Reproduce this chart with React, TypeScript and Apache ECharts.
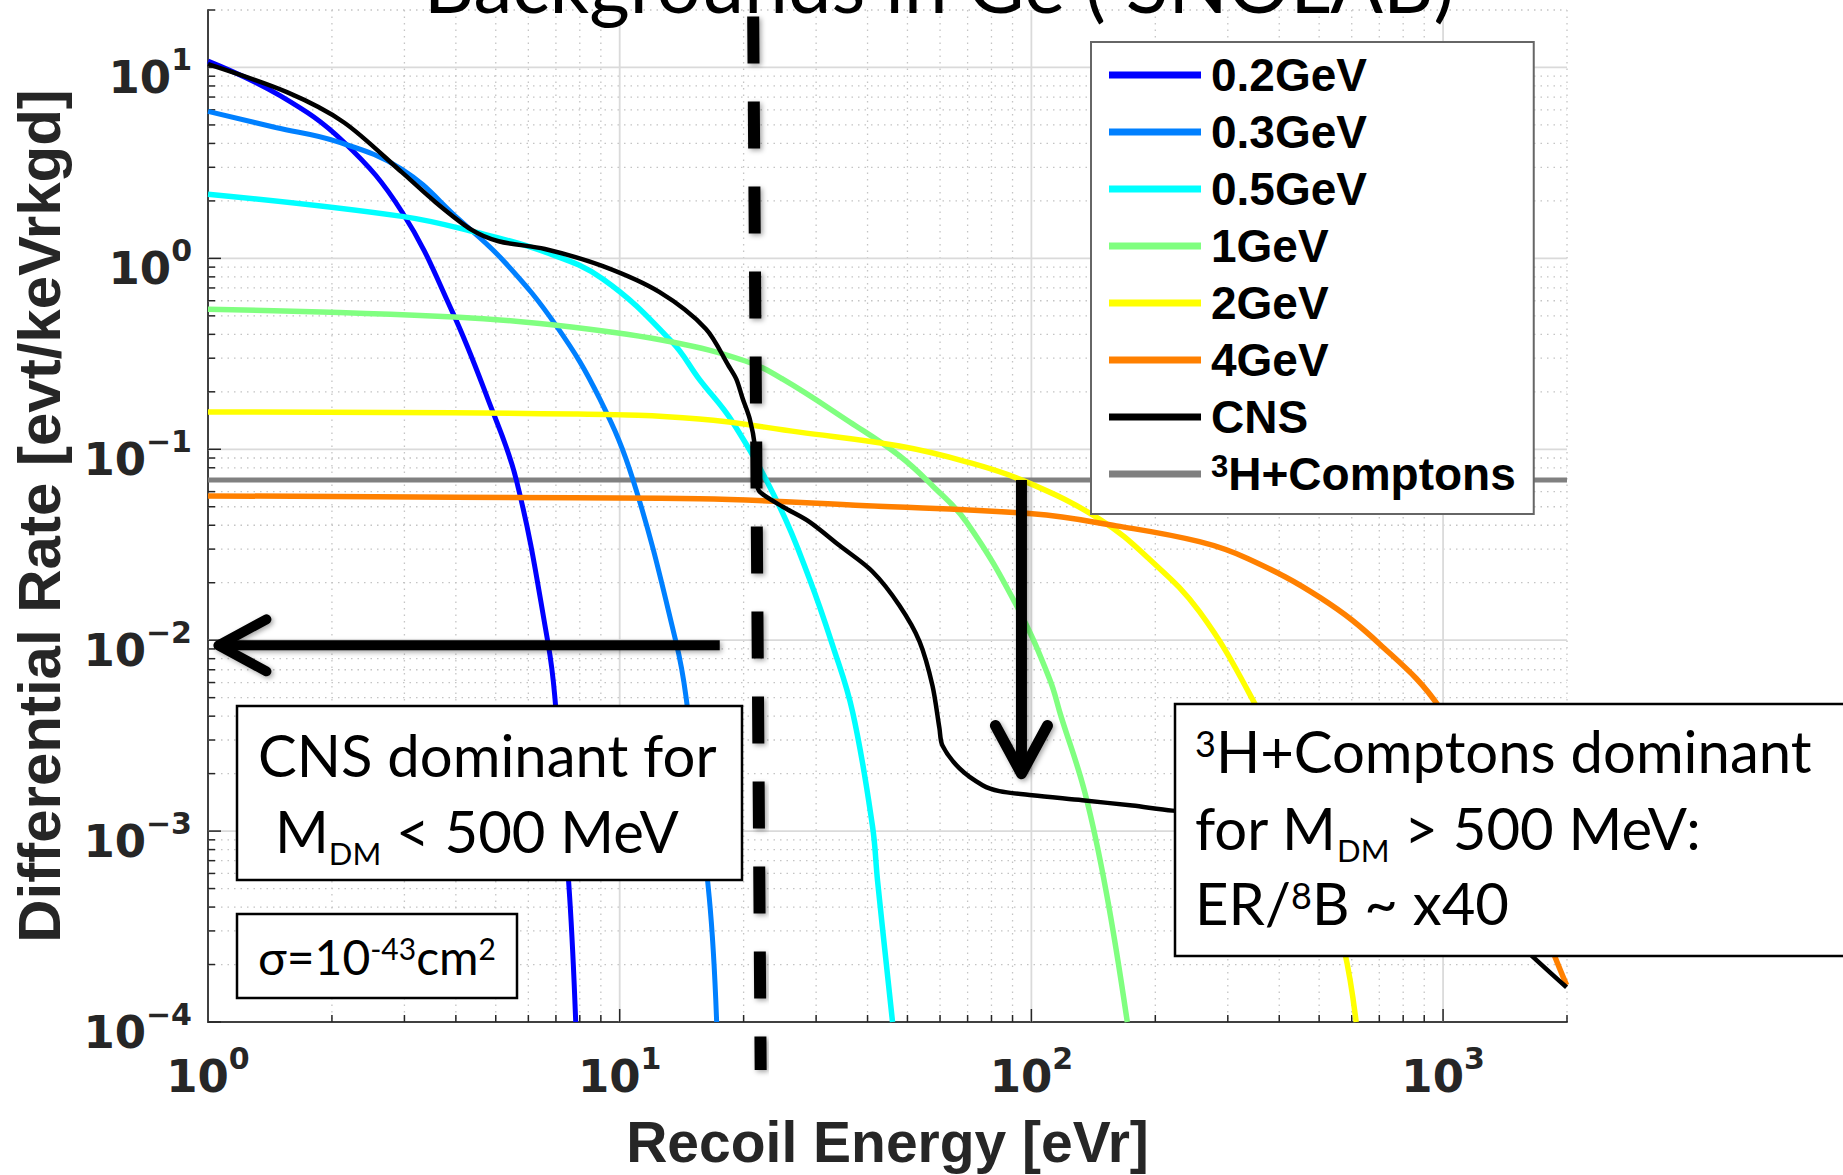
import React, { useEffect, useRef } from "react";
import * as echarts from "echarts";

type Pt = [number, number];

// Differential recoil spectra in Ge: [recoil energy (eVr), rate (evt/keVr/kg/d)]
const rate02GeV: Pt[] = [
  [1, 10.8], [1.5, 7.1], [2.14, 4.06], [2.96, 1.75], [3.93, 0.52], [4.78, 0.184],
  [5.62, 0.068], [6.69, 0.0098], [6.96, 0.005], [7.56, 4.5e-4], [7.82, 1e-4],
];
const rate03GeV: Pt[] = [
  [1, 5.89], [1.46, 4.85], [2.05, 4.1], [2.96, 2.93], [4.07, 1.6], [5.26, 0.955],
  [7.03, 0.44], [8.94, 0.184], [10.8, 0.068], [13.7, 0.0098], [14.5, 0.005],
  [16.5, 4.5e-4], [17.2, 1e-4],
];
const rate05GeV: Pt[] = [
  [1, 2.17], [2.96, 1.66], [4.47, 1.37], [6.58, 1.08], [9.1, 0.78], [13.4, 0.365],
  [15.6, 0.233], [18.8, 0.139], [24.4, 0.0506], [28.9, 0.021], [32.9, 0.0094],
  [36.8, 0.0042], [41.1, 0.00107], [42.3, 5.5e-4], [46, 1e-4],
];
const rate1GeV: Pt[] = [
  [1, 0.542], [4.07, 0.492], [7.73, 0.436], [13.4, 0.365], [20.2, 0.29], [24.9, 0.233],
  [36.2, 0.139], [47.8, 0.0925], [57.5, 0.0644], [69.5, 0.0417], [92, 0.0152],
  [110.6, 0.0063], [118, 0.004], [135, 0.00158], [152, 4.8e-4], [171, 1e-4],
];
const rate2GeV: Pt[] = [
  [1, 0.157], [7.73, 0.153], [15.6, 0.144], [27.3, 0.123], [47.8, 0.104], [69.5, 0.086],
  [97.2, 0.0675], [146, 0.0432], [193, 0.0267], [256, 0.0141], [348, 0.0047],
  [470, 0.00124], [575, 2.4e-4], [615, 1e-4],
];
const rate4GeV: Pt[] = [
  [1, 0.057], [7.73, 0.0557], [15.6, 0.0551], [39.8, 0.0506], [100.5, 0.0459],
  [161, 0.0397], [256, 0.0328], [336, 0.0267], [503, 0.0167], [703, 0.0095],
  [984, 0.0044], [1400, 0.0011], [1858, 2.27e-4], [1995, 1.56e-4],
];
const rateCNS: Pt[] = [
  [1, 10.4], [1.56, 7.4], [2.14, 5.15], [2.96, 2.82], [3.57, 1.97], [4.35, 1.42],
  [5.08, 1.23], [6.58, 1.12], [9.1, 0.91], [12.5, 0.665], [16.2, 0.427], [18.4, 0.273],
  [19.2, 0.233], [19.9, 0.184], [20.7, 0.144], [21.3, 0.104], [21.5, 0.0675],
  [21.9, 0.0598], [24.9, 0.05], [28.9, 0.0417], [34.2, 0.0313], [41.1, 0.0229],
  [47.8, 0.0152], [53.5, 0.00984], [57.5, 0.00579], [59.8, 0.00345], [60.8, 0.00281],
  [66.9, 0.00213], [76.1, 0.00174], [83.6, 0.00162], [100.5, 0.00154], [133, 0.00145],
  [176, 0.00136], [220, 0.00128], [400, 0.00115], [700, 8.5e-4], [1000, 6e-4],
  [1300, 3.6e-4], [1626, 2.27e-4], [1995, 1.52e-4],
];
const rateTritiumCompton: Pt[] = [[1, 0.069], [2000, 0.069]];

const seriesNames = ["0.2GeV", "0.3GeV", "0.5GeV", "1GeV", "2GeV", "4GeV", "CNS", "3H+Comptons"];
const seriesColors = ["#0000FF", "#0080FF", "#00FFFF", "#80FF80", "#FFFF00", "#FF8000", "#000000", "#808080"];
const seriesWidths = [5, 5, 5.5, 5.5, 5.5, 5.5, 4.5, 5];
const seriesData = [rate02GeV, rate03GeV, rate05GeV, rate1GeV, rate2GeV, rate4GeV, rateCNS, rateTritiumCompton];

// Axis ranges and decade ticks
const xRange: Pt = [1, 2000];
const yRange: Pt = [1e-4, 20];
const xDecades = [1, 10, 100, 1000];
const yDecades = [1e-4, 1e-3, 1e-2, 1e-1, 1, 10];
const minorSteps = [2, 3, 4, 5, 6, 7, 8, 9];

// Annotation anchors in data space
const thresholdLine: Pt[] = [[21.1, 18.5], [22.0, 5.6e-5]];
const arrowLeft: Pt[] = [[17.5, 0.0094], [1.06, 0.0094]];
const arrowDown: Pt[] = [[94.6, 0.069], [94.6, 0.002]];

const AXIS_FONT = "'Liberation Sans', Arial, Helvetica, sans-serif";
const TICK_FONT = "'DejaVu Sans', Verdana, sans-serif";
const NOTE_FONT = "Lato, 'Open Sans', sans-serif";
const INK = "#262626";

const powerLabel = (v: number): string => {
  const e = Math.log10(v);
  const r = Math.round(e);
  if (Math.abs(e - r) > 1e-6) return "";
  const exp = r < 0 ? "\u2212" + Math.abs(r) : String(r);
  return `{b|10}{s|${exp}}`;
};

const tickRich = {
  b: { fontFamily: TICK_FONT, fontWeight: "bold", fontSize: 45, color: INK, lineHeight: 56, verticalAlign: "bottom" },
  s: { fontFamily: TICK_FONT, fontWeight: "bold", fontSize: 30, color: INK, verticalAlign: "top" },
};

const minorValues = (decades: number[], range: Pt) => {
  const out: number[] = [];
  decades.forEach((d) => minorSteps.forEach((m) => {
    const v = d * m;
    if (v > range[0] && v <= range[1] * 1.0001) out.push(v);
  }));
  return out;
};

// Grid lines and inward ticks drawn against the cartesian scales
const gridRenderer = (params: any, api: any) => {
  const cs = params.coordSys;
  const left = cs.x, top = cs.y, right = cs.x + cs.width, bottom = cs.y + cs.height;
  const kids: any[] = [];
  const seg = (x1: number, y1: number, x2: number, y2: number, stroke: string, w: number, dash?: number[]) =>
    kids.push({ type: "line", shape: { x1, y1, x2, y2 }, style: { stroke, lineWidth: w, lineDash: dash || null } });
  const xMinor = minorValues(xDecades, xRange);
  const yMinor = minorValues(yDecades, yRange);
  const xMajor = xDecades.filter((v) => v > xRange[0]);
  const yMajor = yDecades.filter((v) => v > yRange[0]);
  xMinor.forEach((v) => { const x = api.coord([v, 1])[0]; seg(x, top, x, bottom, "#c4c4c4", 1.3, [1.5, 5]); });
  yMinor.forEach((v) => { const y = api.coord([1, v])[1]; seg(left, y, right, y, "#c4c4c4", 1.3, [1.5, 5]); });
  xMajor.forEach((v) => { const x = api.coord([v, 1])[0]; seg(x, top, x, bottom, "#dadada", 1.8); });
  yMajor.forEach((v) => { const y = api.coord([1, v])[1]; seg(left, y, right, y, "#dadada", 1.8); });
  xMinor.forEach((v) => { const x = api.coord([v, 1])[0]; seg(x, bottom, x, bottom - 7, INK, 1.5); });
  xMajor.forEach((v) => { const x = api.coord([v, 1])[0]; seg(x, bottom, x, bottom - 13, INK, 1.5); });
  yMinor.forEach((v) => { const y = api.coord([1, v])[1]; seg(left, y, left + 7, y, INK, 1.5); });
  yDecades.forEach((v) => { const y = api.coord([1, v])[1]; seg(left, y, left + 13, y, INK, 1.5); });
  return { type: "group", children: kids };
};

const legendRich = {
  n: { fontFamily: AXIS_FONT, fontWeight: "bold", fontSize: 46, color: "#000", verticalAlign: "middle" },
  h: { fontFamily: AXIS_FONT, fontWeight: "bold", fontSize: 46, color: "#000", lineHeight: 46, verticalAlign: "bottom" },
  s: { fontFamily: AXIS_FONT, fontWeight: "bold", fontSize: 31, color: "#000", lineHeight: 31, verticalAlign: "top" },
};

const buildOption = () => ({
  animation: false,
  backgroundColor: "#ffffff",
  grid: { left: 208, top: 10, right: 276, bottom: 151, containLabel: false },
  xAxis: {
    type: "log", logBase: 10, min: xRange[0], max: xRange[1],
    name: "Recoil Energy [eVr]", nameLocation: "middle", nameGap: 91,
    nameTextStyle: { fontFamily: AXIS_FONT, fontWeight: "bold", fontSize: 57, color: INK },
    axisLine: { show: true, onZero: false, lineStyle: { color: "#404040", width: 2 } },
    axisTick: { show: false }, splitLine: { show: false }, minorTick: { show: false },
    axisLabel: { formatter: powerLabel, rich: tickRich, margin: 21 },
  },
  yAxis: {
    type: "log", logBase: 10, min: yRange[0], max: yRange[1],
    name: "Differential Rate [evt/keVrkgd]", nameLocation: "middle", nameGap: 139,
    nameTextStyle: { fontFamily: AXIS_FONT, fontWeight: "bold", fontSize: 60, color: INK },
    axisLine: { show: true, onZero: false, lineStyle: { color: "#404040", width: 2 } },
    axisTick: { show: false }, splitLine: { show: false }, minorTick: { show: false },
    axisLabel: { formatter: powerLabel, rich: tickRich, margin: 16, padding: [10, 0, 0, 0] },
  },
  legend: {
    data: seriesNames, orient: "vertical", left: 1091, top: 42,
    icon: "rect", itemWidth: 92, itemHeight: 7, itemGap: 11,
    padding: [10, 18, 17, 18],
    backgroundColor: "#ffffff", borderColor: "#666666", borderWidth: 2,
    selectedMode: false,
    formatter: (name: string) => (name === "3H+Comptons" ? "{s|3}{h|H+Comptons}" : `{n|${name}}`),
    textStyle: { padding: [0, 0, 0, 5], rich: legendRich },
  },
  series: [
    {
      type: "custom", name: "grid", silent: true, z: 1, clip: false,
      data: [[1, 1]], renderItem: gridRenderer,
    },
    ...seriesNames.map((name, i) => ({
      type: "line", name, data: seriesData[i],
      showSymbol: false, symbol: "none", silent: true,
      smooth: name === "CNS" ? 0.3 : 0.4,
      z: name === "3H+Comptons" ? 2 : 3,
      lineStyle: { color: seriesColors[i], width: seriesWidths[i] },
      itemStyle: { color: seriesColors[i] },
    })),
  ],
});

// Lato: centre of the em box sits ~0.387em above the alphabetic baseline
const CENTRAL = 0.387;

const noteRich = (S: number, sub: number, sup: number, subLH: number, supLH: number) => ({
  p: { fontFamily: NOTE_FONT, fontSize: S, color: "#000", lineHeight: S, verticalAlign: "top" },
  t: { fontFamily: NOTE_FONT, fontSize: S, color: "#000", lineHeight: subLH, verticalAlign: "top" },
  d: { fontFamily: NOTE_FONT, fontSize: sub, color: "#000", verticalAlign: "bottom" },
  b: { fontFamily: NOTE_FONT, fontSize: S, color: "#000", lineHeight: supLH, verticalAlign: "bottom" },
  u: { fontFamily: NOTE_FONT, fontSize: sup, color: "#000", verticalAlign: "top" },
});

const noteLine = (text: string, x: number, baseline: number, S: number, kind: "plain" | "sub" | "sup", rich: any, supLH: number) => {
  const top = kind === "sup"
    ? baseline - (supLH - S / 2 + CENTRAL * S)
    : baseline - (S / 2 + CENTRAL * S);
  return {
    type: "text", z: 101, silent: true,
    style: { text, x, y: top, rich, align: "left", textAlign: "left", verticalAlign: "top", textVerticalAlign: "top" },
  };
};

const buildGraphics = (px: (p: Pt) => number[]) => {
  const S = 58;
  const supLH = 54.5;
  const subLH = 67.4;
  const rich = noteRich(S, 31, 36, subLH, supLH);
  const sigmaS = 48;
  const sigmaSupLH = 47;
  const sigmaRich = noteRich(sigmaS, 26, 30, sigmaS, sigmaSupLH);

  const shadow = { shadowBlur: 5, shadowColor: "rgba(0,0,0,0.35)", shadowOffsetX: 2, shadowOffsetY: 2 };
  const [t0, t1] = thresholdLine.map(px);
  const [aTail, aTip] = arrowLeft.map(px);
  const [dTail, dTip] = arrowDown.map(px);

  const titleSize = 78;
  return [
    {
      type: "text", z: 100, silent: true,
      style: {
        text: "Backgrounds in Ge ( SNOLAB)", x: 939, y: 13 - CENTRAL * titleSize,
        fontFamily: NOTE_FONT, fontSize: titleSize, fill: "#000",
        align: "center", textAlign: "center", verticalAlign: "middle", textVerticalAlign: "middle",
      },
    },
    {
      type: "line", z: 60, silent: true,
      shape: { x1: t0[0], y1: t0[1], x2: t1[0], y2: t1[1] },
      style: { stroke: "#000", lineWidth: 12, lineDash: [47, 38], lineCap: "butt", ...shadow },
    },
    // leftward arrow: shaft + open head
    {
      type: "rect", z: 60, silent: true,
      shape: { x: aTip[0] + 4, y: aTip[1] - 5, width: aTail[0] - aTip[0] - 4, height: 10 },
      style: { fill: "#000", ...shadow },
    },
    {
      type: "polyline", z: 60, silent: true,
      shape: { points: [[aTip[0] + 48, aTip[1] - 26], [aTip[0], aTip[1]], [aTip[0] + 48, aTip[1] + 26]] },
      style: { stroke: "#000", lineWidth: 10, fill: null, lineCap: "round", lineJoin: "round", ...shadow },
    },
    // downward arrow: shaft + open head
    {
      type: "rect", z: 60, silent: true,
      shape: { x: dTail[0] - 5.5, y: dTail[1], width: 11, height: dTip[1] - 4 - dTail[1] },
      style: { fill: "#000", ...shadow },
    },
    {
      type: "polyline", z: 60, silent: true,
      shape: { points: [[dTip[0] - 26, dTip[1] - 48], [dTip[0], dTip[1]], [dTip[0] + 26, dTip[1] - 48]] },
      style: { stroke: "#000", lineWidth: 11, fill: null, lineCap: "round", lineJoin: "round", ...shadow },
    },
    // CNS note
    { type: "rect", z: 100, silent: true, shape: { x: 237, y: 706, width: 505, height: 174 }, style: { fill: "#fff", stroke: "#000", lineWidth: 2.5 } },
    noteLine("{p|CNS dominant for}", 258, 777, S, "plain", rich, supLH),
    noteLine("{t|M}{d|DM}{t| < 500 MeV}", 275, 853, S, "sub", rich, supLH),
    // cross-section note
    { type: "rect", z: 100, silent: true, shape: { x: 237, y: 914, width: 280, height: 84 }, style: { fill: "#fff", stroke: "#000", lineWidth: 2.5 } },
    noteLine("{b|\u03c3=10}{u|-43}{b|cm}{u|2}", 258, 975, sigmaS, "sup", sigmaRich, sigmaSupLH),
    // tritium / Compton note
    { type: "rect", z: 100, silent: true, shape: { x: 1175, y: 704, width: 720, height: 252 }, style: { fill: "#fff", stroke: "#000", lineWidth: 2.5 } },
    noteLine("{u|3}{b|H+Comptons dominant}", 1195, 773, S, "sup", rich, supLH),
    noteLine("{t|for M}{d|DM}{t| > 500 MeV:}", 1195, 850, S, "sub", rich, supLH),
    noteLine("{b|ER/}{u|8}{b|B ~ x40}", 1195, 925, S, "sup", rich, supLH),
  ];
};

export default function App() {
  const ref = useRef<HTMLDivElement>(null);
  useEffect(() => {
    const el = ref.current;
    if (!el) return;
    const chart = echarts.init(el, undefined, { renderer: "svg" });
    chart.setOption(buildOption() as any);
    const px = (p: Pt) => chart.convertToPixel({ gridIndex: 0 }, p) as number[];
    chart.setOption({ graphic: buildGraphics(px) } as any);
    return () => chart.dispose();
  }, []);
  return (
    <div
      ref={ref}
      style={{ position: "fixed", left: 0, top: 0, width: 1843, height: 1175, background: "#ffffff" }}
    />
  );
}
